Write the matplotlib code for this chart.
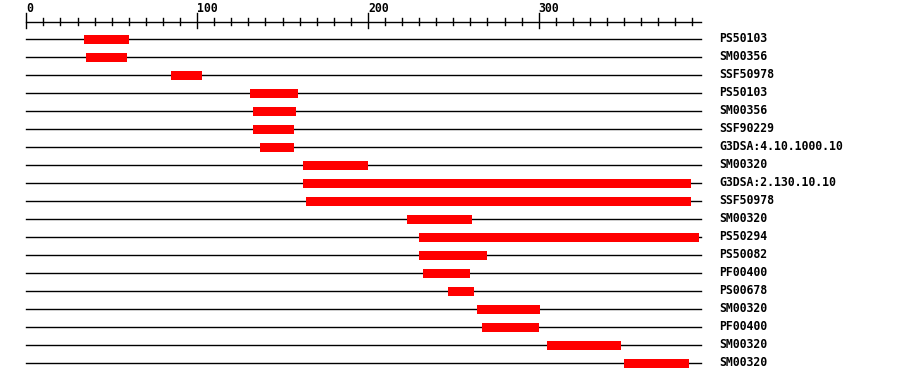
import matplotlib
matplotlib.use('Agg')
import matplotlib.pyplot as plt
import numpy as np

# domain hits on a 395-residue protein
SEQ_LEN = 395
labels = ['PS50103', 'SM00356', 'SSF50978', 'PS50103', 'SM00356', 'SSF90229',
          'G3DSA:4.10.1000.10', 'SM00320', 'G3DSA:2.130.10.10', 'SSF50978',
          'SM00320', 'PS50294', 'PS50082', 'PF00400', 'PS00678', 'SM00320',
          'PF00400', 'SM00320', 'SM00320']
starts = [34, 35, 85, 131, 133, 133, 137, 162, 162, 164,
          223, 230, 230, 232, 247, 264, 267, 305, 350]
ends = [60, 59, 103, 159, 158, 157, 157, 200, 389, 389,
        261, 394, 270, 260, 262, 301, 300, 348, 388]
major_ticks = [0, 100, 200, 300]
minor_ticks = list(range(0, 400, 10))

# pixel layout
PX0, PX_PER_RES = 26.3, 1.708
W, H = 900, 382
AXIS_Y, ROW0_Y, ROW_STEP = 22, 39, 18
FONT = dict(family='DejaVu Sans Mono', weight='bold', fontsize=8.3)

fig = plt.figure(figsize=(W / 100, H / 100), dpi=100)
ax = fig.add_axes([0, 0, 1, 1])
ax.set_xlim(-PX0 / PX_PER_RES, (W - PX0) / PX_PER_RES)
ax.set_ylim(H, 0)
ax.axis('off')

# ruler
ax.plot([0, SEQ_LEN], [AXIS_Y, AXIS_Y], color='black', lw=1.0)
for t in minor_ticks:
    if t in major_ticks:
        ax.plot([t, t], [13, 28], color='black', lw=1.0)
    else:
        ax.plot([t, t], [18, 25], color='black', lw=1.0)
for t in major_ticks:
    ax.text(t, 8, str(t), ha='left', va='center', **FONT)

# one row per hit
for i, (lab, s, e) in enumerate(zip(labels, starts, ends)):
    y = ROW0_Y + i * ROW_STEP
    ax.plot([0, SEQ_LEN], [y, y], color='black', lw=1.0, zorder=1)
    ax.barh(y, e - s, left=s, height=9, color='#ff0000', zorder=2)
    ax.text(405.6, y, lab, ha='left', va='center', **FONT)

plt.savefig('out.png', dpi=100)
plt.close()
